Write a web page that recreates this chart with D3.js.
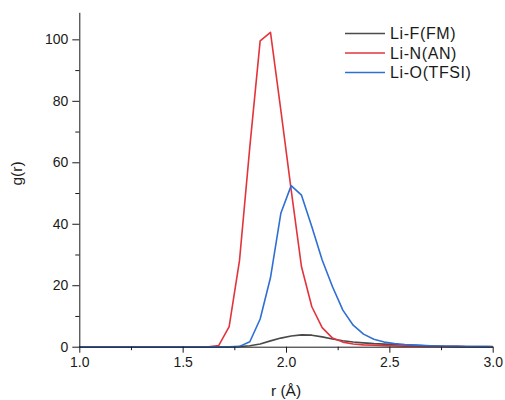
<!DOCTYPE html>
<html>
<head>
<meta charset="utf-8">
<script src="https://cdn.jsdelivr.net/npm/d3@7"></script>
<style>
  html, body { margin: 0; padding: 0; background: #fff; }
  svg { display: block; font-family: "Liberation Sans", Arial, sans-serif; }
</style>
</head>
<body>
<svg id="chart" width="505" height="400"></svg>
<script>
// ---- data ----
const r = [1.0, 1.525, 1.575, 1.625, 1.675, 1.725, 1.775, 1.825, 1.875, 1.925, 1.975,
           2.025, 2.075, 2.125, 2.175, 2.225, 2.275, 2.325, 2.375, 2.425, 2.475,
           2.525, 2.575, 2.625, 2.675, 2.725, 2.775, 2.825, 2.875, 2.925, 2.975, 3.0];
const liF_FM = [0, 0, 0, 0, 0, 0, 0.05, 0.3, 0.9, 1.9, 2.8,
                3.5, 3.85, 3.75, 3.2, 2.5, 1.95, 1.55, 1.25, 1.0, 0.85,
                0.7, 0.55, 0.42, 0.32, 0.24, 0.17, 0.12, 0.08, 0.05, 0.03, 0.02];
const liN_AN = [0, 0, 0, 0, 0.4, 6.5, 28, 65, 99.5, 102.3, 77,
                51, 26, 13, 6.2, 2.8, 1.5, 0.9, 0.6, 0.45, 0.35,
                0.28, 0.2, 0.15, 0.1, 0.07, 0.04, 0.02, 0, 0, 0, 0];
const liO_TFSI = [0, 0, 0, 0, 0, 0, 0.1, 1.6, 9, 22.5, 43.4,
                  52.4, 49.3, 39, 28.2, 19.5, 11.9, 7, 4.1, 2.4, 1.5,
                  1.0, 0.7, 0.5, 0.35, 0.25, 0.15, 0.1, 0.05, 0.03, 0.02, 0];
const seriesNames = ["Li-F(FM)", "Li-N(AN)", "Li-O(TFSI)"];
const seriesColors = ["#4a4a4a", "#e3343c", "#2f6fd3"];
const xMajorTicks = [1.0, 1.5, 2.0, 2.5, 3.0];
const xMinorTicks = [1.25, 1.75, 2.25, 2.75];
const yMajorTicks = [0, 20, 40, 60, 80, 100];
const yMinorTicks = [10, 30, 50, 70, 90];
const xTitle = "r (Å)";
const yTitle = "g(r)";

// ---- layout ----
const svg = d3.select("#chart");
const mLeft = 79.3, mRight = 492.7, mTop = 12.3, mBottom = 346.7;
const x = d3.scaleLinear().domain([1.0, 3.0]).range([mLeft, mRight]);
const y = d3.scaleLinear().domain([0, 108.8]).range([mBottom, mTop]);

const seriesData = [liF_FM, liN_AN, liO_TFSI];

// curves
const line = d3.line().x(d => x(d[0])).y(d => y(d[1]));
seriesData.forEach((vals, i) => {
  svg.append("path")
    .datum(r.map((rv, k) => [rv, vals[k]]))
    .attr("fill", "none")
    .attr("stroke", seriesColors[i])
    .attr("stroke-width", 1.6)
    .attr("stroke-linejoin", "round")
    .attr("d", line);
});

// x axis
svg.append("g").attr("transform", `translate(0,${mBottom})`)
  .call(d3.axisBottom(x).tickValues(xMajorTicks).tickFormat(d3.format(".1f")).tickSizeInner(6).tickSizeOuter(0).tickPadding(4));
svg.append("g").attr("transform", `translate(0,${mBottom})`)
  .call(d3.axisBottom(x).tickValues(xMinorTicks).tickFormat("").tickSizeInner(3.5).tickSizeOuter(0))
  .select(".domain").remove();

// y axis
svg.append("g").attr("transform", `translate(${mLeft},0)`)
  .call(d3.axisLeft(y).tickValues(yMajorTicks).tickFormat(d3.format("d")).tickSizeInner(7).tickSizeOuter(0).tickPadding(4));
svg.append("g").attr("transform", `translate(${mLeft},0)`)
  .call(d3.axisLeft(y).tickValues(yMinorTicks).tickFormat("").tickSizeInner(4).tickSizeOuter(0))
  .select(".domain").remove();

svg.selectAll(".tick text").attr("font-size", 14).attr("fill", "#1a1a1a")
  .attr("font-family", "'Liberation Sans', Arial, sans-serif");
svg.selectAll(".domain, .tick line").attr("stroke", "#1a1a1a").attr("stroke-width", 1);

// axis titles
svg.append("text").attr("x", (mLeft + mRight) / 2).attr("y", 396)
  .attr("text-anchor", "middle").attr("font-size", 15.5).attr("fill", "#1a1a1a").text(xTitle);
svg.append("text").attr("transform", `translate(22,${(mTop + mBottom) / 2 - 6}) rotate(-90)`)
  .attr("text-anchor", "middle").attr("font-size", 15.5).attr("fill", "#1a1a1a").text(yTitle);

// legend
const legendY = [33.5, 53, 72.5];
seriesNames.forEach((name, i) => {
  svg.append("line").attr("x1", 345).attr("x2", 385)
    .attr("y1", legendY[i]).attr("y2", legendY[i])
    .attr("stroke", seriesColors[i]).attr("stroke-width", 1.6);
  svg.append("text").attr("x", 390).attr("y", legendY[i] + 5.5)
    .attr("font-size", 16).attr("letter-spacing", 0.6).attr("fill", "#1a1a1a").text(name);
});
</script>
</body>
</html>
